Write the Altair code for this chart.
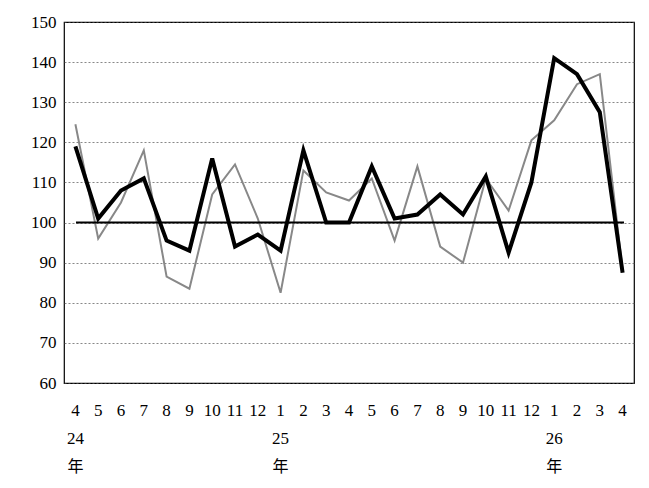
import altair as alt
import pandas as pd

months = ["4", "5", "6", "7", "8", "9", "10", "11", "12", "1", "2", "3",
          "4", "5", "6", "7", "8", "9", "10", "11", "12", "1", "2", "3", "4"]
black = [119, 101, 108, 111, 95.5, 93, 116, 94, 97, 93, 118, 100, 100,
         114, 101, 102, 107, 102, 111.5, 92.5, 110, 141, 137, 127.5, 87.5]
gray = [124.5, 96, 105, 118, 86.5, 83.5, 107, 114.5, 101, 82.5, 113, 107.5,
        105.5, 111, 95.5, 114, 94, 90, 111, 103, 120.5, 125.5, 134.5, 137, 88]
years = ["24", "25", "26"]
year_pos = [0, 9, 21]

idx = list(range(len(months)))
df = pd.DataFrame({"i": idx, "m": months, "black": black, "gray": gray})
ydf = pd.DataFrame({"i": year_pos, "y": years})

FONT = "Liberation Serif"

x = alt.X("i:Q", scale=alt.Scale(domain=[-0.5, 24.5], nice=False, zero=False), axis=None)
yscale = alt.Scale(domain=[60, 150], nice=False)
base = alt.Chart(df)

g = base.mark_line(color="#888888", strokeWidth=2).encode(
    x=x,
    y=alt.Y("gray:Q", scale=yscale,
            axis=alt.Axis(values=list(range(60, 151, 10)), gridDash=[2, 2],
                          gridColor="#555", gridWidth=0.7, title=None, domain=False,
                          ticks=False, labelPadding=8, labelFontSize=17,
                          labelFont=FONT, labelColor="black")))
b = base.mark_line(color="black", strokeWidth=4).encode(x="i:Q", y="black:Q")
ref = alt.Chart(pd.DataFrame({"v": [100]})).mark_rule(color="black", strokeWidth=2).encode(
    y="v:Q", x=alt.value(12), x2=alt.value(560))
mt = base.mark_text(font=FONT, fontSize=17, align="center", baseline="middle").encode(
    x="i:Q", y=alt.value(389), text="m:N")
yt = alt.Chart(ydf).mark_text(font=FONT, fontSize=17, align="center", baseline="middle").encode(
    x="i:Q", y=alt.value(417), text="y:N")
nen = alt.Chart(ydf).mark_text(font="Noto Sans CJK JP", fontSize=16, align="center",
                               baseline="middle").encode(
    x="i:Q", y=alt.value(445), text=alt.value("年"))

chart = alt.layer(g, ref, b, mt, yt, nen).properties(
    width=570, height=361, autosize="none",
    padding={"left": 56, "top": 14, "right": 5, "bottom": 95}
).configure_view(stroke="black", strokeWidth=1.2)

chart.save("out.html", embed_options={"renderer": "svg", "actions": False})
